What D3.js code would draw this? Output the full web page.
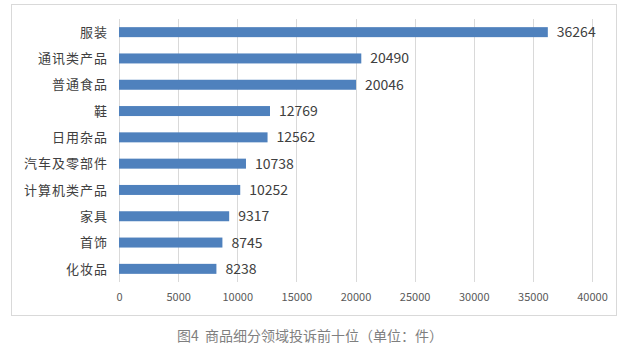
<!DOCTYPE html>
<html><head><meta charset="utf-8">
<script src="https://cdn.jsdelivr.net/npm/d3@7"></script>
<style>body{margin:0;background:#fff;}svg{display:block;}</style>
</head><body><svg id="c" width="632" height="355"></svg>
<script>
const categories = ["服装","通讯类产品","普通食品","鞋","日用杂品","汽车及零部件","计算机类产品","家具","首饰","化妆品"];
const values = [36264,20490,20046,12769,12562,10738,10252,9317,8745,8238];
const ticks = [0,5000,10000,15000,20000,25000,30000,35000,40000];
const caption = "图4\u00a0\u00a0商品细分领域投诉前十位（单位：件）";

const svg = d3.select("#c");
const font = "'Noto Sans CJK SC','Microsoft YaHei',sans-serif";
svg.append("rect").attr("x",11.5).attr("y",4.5).attr("width",605).attr("height",311)
  .attr("fill","#fff").attr("stroke","#d9d9d9").attr("stroke-width",1);

const x = d3.scaleLinear().domain([0,40000]).range([119,592]);
const y = d3.scaleBand().domain(categories).range([19,282]).paddingInner(0.62).paddingOuter(0.31);

const g = svg.append("g");
g.selectAll("line.grid").data(ticks).join("line").attr("class","grid")
  .attr("x1",d=>Math.round(x(d))+0.5).attr("x2",d=>Math.round(x(d))+0.5)
  .attr("y1",19).attr("y2",282).attr("stroke","#d9d9d9").attr("stroke-width",1);

g.selectAll("rect.bar").data(values).join("rect").attr("class","bar")
  .attr("x",x(0)).attr("y",(d,i)=>y(categories[i]))
  .attr("width",d=>x(d)-x(0)).attr("height",y.bandwidth())
  .attr("fill","#4f81bd");

g.selectAll("text.val").data(values).join("text").attr("class","val")
  .attr("x",d=>x(d)+9).attr("y",(d,i)=>y(categories[i])+y.bandwidth()/2)
  .attr("dy","0.36em").attr("font-family",font).attr("font-size",14)
  .attr("fill","#404040").text(d=>d);

g.selectAll("text.cat").data(categories).join("text").attr("class","cat")
  .attr("x",108).attr("y",d=>y(d)+y.bandwidth()/2).attr("dy","0.36em")
  .attr("text-anchor","end").attr("font-family",font).attr("font-size",13)
  .attr("fill","#404040").attr("letter-spacing","1px").text(d=>d);

const axis = d3.axisBottom(x).tickValues(ticks).tickSize(0).tickPadding(0).tickFormat(d=>d);
const ag = svg.append("g").attr("transform","translate(0,293)").call(axis);
ag.select(".domain").remove();
ag.selectAll("text").attr("font-family",font).attr("font-size",11).attr("fill","#595959");

svg.append("text").attr("x",310).attr("y",336).attr("dy","0.36em").attr("text-anchor","middle")
  .attr("font-family",font).attr("font-size",14).attr("fill","#7f7f7f")
  .text(caption);
</script></body></html>
